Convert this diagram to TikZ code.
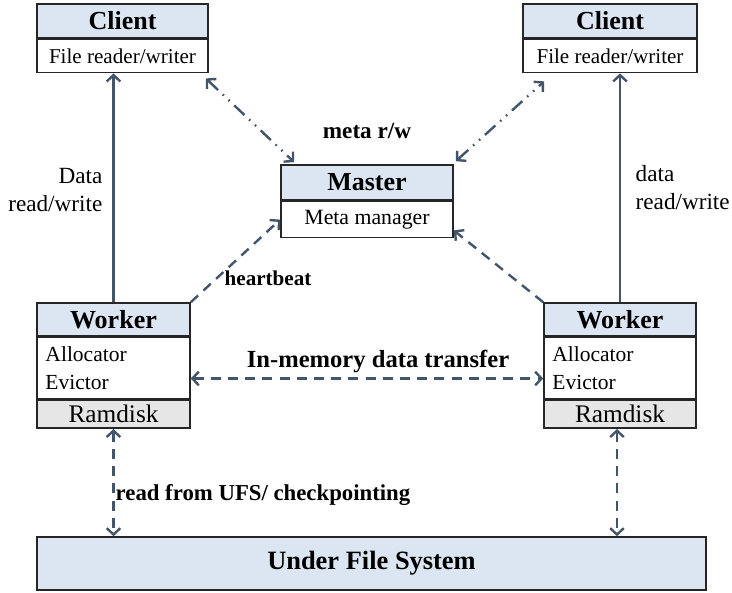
\documentclass[tikz,border=0pt]{standalone}
\usepackage{fontspec}
\setmainfont{Liberation Serif}
\usepackage{tikz}
\usetikzlibrary{arrows.meta,positioning}
\definecolor{hdblue}{RGB}{220,230,242}
\definecolor{rdgray}{RGB}{230,230,230}
\definecolor{arblue}{RGB}{68,84,106}

\begin{document}
\begin{tikzpicture}[x=0.25mm,y=-0.25mm,
 hd/.style={draw=black!85,line width=0.4mm,fill=hdblue,inner sep=0pt,minimum height=8.5mm,font=\bfseries\fontsize{18.5}{20}\selectfont},
 bd/.style={draw=black!85,line width=0.4mm,fill=white,inner sep=0pt,minimum height=8.5mm,font=\fontsize{15}{17}\selectfont},
 wb/.style={bd,align=left,text width=34mm,inner xsep=2.1mm,minimum height=15.25mm,font=\fontsize{15.3}{19.5}\selectfont},
 rd/.style={bd,fill=rdgray,minimum height=7mm,font=\fontsize{18}{20}\selectfont},
 lbl/.style={font=\bfseries\fontsize{16.5}{19}\selectfont,inner sep=1pt},
 dlbl/.style={font=\fontsize{16.5}{20}\selectfont,inner sep=1pt},
 ar/.style={draw=arblue,line width=0.6mm,-{Straight Barb[length=1.6mm,width=3.4mm]}},
 dar/.style={ar,dash pattern=on 2.5mm off 1.8mm},
 mar/.style={ar,{Straight Barb[length=1.6mm,width=3.4mm]}-{Straight Barb[length=1.6mm,width=3.4mm]},dash pattern=on 3.5mm off 1.6mm on 0.4mm off 1.6mm on 0.4mm off 1.6mm}]
\useasboundingbox (0,0) rectangle (732,592);
% clients
\node[hd,minimum width=42.75mm] (c1h) at (122.5,21) {Client};
\node[bd,minimum width=42.75mm,minimum height=8.25mm,below=0pt of c1h] (c1b) {File reader/writer};
\node[hd,minimum width=43.5mm] (c2h) at (610,21) {Client};
\node[bd,minimum width=43.5mm,minimum height=8.25mm,below=0pt of c2h] (c2b) {File reader/writer};
% master
\node[hd,minimum width=43mm,minimum height=8.75mm] (mh) at (367,182.5) {Master};
\node[bd,minimum width=43mm,minimum height=9mm,below=0pt of mh,font=\fontsize{15.5}{17}\selectfont] (mb) {Meta manager};
% workers
\node[hd,minimum width=38.25mm,minimum height=8.25mm] (w1h) at (113.5,319.5) {Worker};
\node[wb,below=0pt of w1h] (w1b) {Allocator\\Evictor};
\node[rd,minimum width=38.25mm,below=0pt of w1b] (w1r) {Ramdisk};
\node[hd,minimum width=38mm,minimum height=8.25mm] (w2h) at (620,319.5) {Worker};
\node[wb,text width=33.8mm,below=0pt of w2h] (w2b) {Allocator\\Evictor};
\node[rd,minimum width=38mm,below=0pt of w2b] (w2r) {Ramdisk};
% under file system
\node[hd,minimum width=167.25mm,minimum height=13.25mm,font=\bfseries\fontsize{18.8}{20}\selectfont] (ufs) at (371.5,563.5) {Under File System};
% labels
\node[lbl] (meta) at (367,131) {meta r/w};
\node[lbl,font=\bfseries\fontsize{15}{17}\selectfont] (hb) at (268,278) {heartbeat};
\node[lbl,font=\bfseries\fontsize{17.5}{19}\selectfont] (imt) at (378,361) {In-memory data transfer};
\node[lbl,anchor=west,font=\bfseries\fontsize{16.2}{19}\selectfont] (rfu) at (114,495) {read from UFS/ checkpointing};
\node[dlbl,align=right,anchor=east] (drw1) at (104,190) {Data\\read/write};
\node[dlbl,align=left,anchor=west] (drw2) at (634,188) {data\\read/write};
% connectors
\draw[ar] (w1h.north) -- (w1h.north |- c1b.south);
\draw[ar] (w2h.north) -- (w2h.north |- c2b.south);
\draw[mar] ([xshift=-0.75mm,yshift=-1.25mm]c1b.south east) -- ([xshift=3.5mm,yshift=0.5mm]mh.north west);
\draw[mar] ([xshift=0.5mm,yshift=0.75mm]mh.north east) -- ([xshift=5.5mm,yshift=-2mm]c2b.south west);
\draw[dar] (w1h.north east) -- (mb.west);
\draw[dar] (w2h.north west) -- ([yshift=2mm]mb.south east);
\draw[dar,{Straight Barb[length=1.6mm,width=3.4mm]}-{Straight Barb[length=1.6mm,width=3.4mm]}] ([yshift=-2.6mm]w1b.east) -- ([yshift=-2.6mm]w2b.west);
\draw[dar,{Straight Barb[length=1.6mm,width=3.4mm]}-{Straight Barb[length=1.6mm,width=3.4mm]}] (w1r.south) -- (w1r.south |- ufs.north);
\draw[dar,{Straight Barb[length=1.6mm,width=3.4mm]}-{Straight Barb[length=1.6mm,width=3.4mm]}] ([xshift=-0.75mm]w2r.south) -- ([xshift=-0.75mm]w2r.south |- ufs.north);
\end{tikzpicture}
\end{document}
